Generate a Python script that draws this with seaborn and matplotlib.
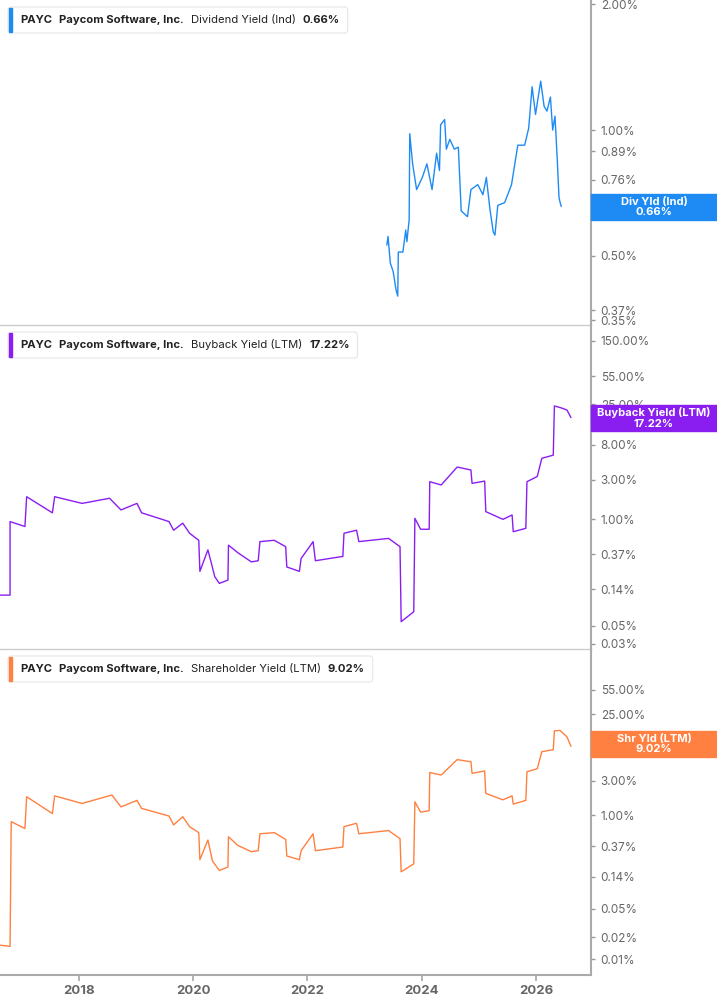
import numpy as np
import pandas as pd
import matplotlib
matplotlib.use("Agg")
import matplotlib.pyplot as plt
from matplotlib.patches import Rectangle, FancyBboxPatch
import seaborn as sns

sns.set_theme(style="white")
plt.rcParams['font.family'] = ['Inter', 'DejaVu Sans']

# ---- data (decimal years, percent values) ----
div_years = [2023.39, 2023.41, 2023.45, 2023.50, 2023.55, 2023.58, 2023.59, 2023.67, 2023.72, 2023.74,
             2023.78, 2023.79, 2023.84, 2023.91, 2024.01, 2024.09, 2024.18, 2024.26, 2024.31, 2024.33,
             2024.40, 2024.43, 2024.49, 2024.57, 2024.64, 2024.69, 2024.80, 2024.86, 2024.98, 2025.07,
             2025.13, 2025.19, 2025.25, 2025.28, 2025.33, 2025.45, 2025.57, 2025.68, 2025.80, 2025.87,
             2025.93, 2025.99, 2026.08, 2026.14, 2026.19, 2026.25, 2026.29, 2026.33, 2026.37, 2026.40,
             2026.42, 2026.44]
div_vals = [0.53, 0.556, 0.48, 0.458, 0.414, 0.40, 0.51, 0.51, 0.576, 0.54,
            0.61, 0.98, 0.83, 0.72, 0.77, 0.83, 0.72, 0.88, 0.80, 1.03,
            1.06, 0.90, 0.95, 0.90, 0.91, 0.64, 0.62, 0.72, 0.74, 0.70,
            0.77, 0.65, 0.57, 0.56, 0.66, 0.67, 0.74, 0.92, 0.92, 1.01,
            1.27, 1.09, 1.31, 1.14, 1.11, 1.20, 1.00, 1.08, 0.85, 0.69,
            0.67, 0.656]

bb_years = [2016.62, 2016.80, 2016.80, 2017.06, 2017.09, 2017.54, 2017.58, 2018.06, 2018.54, 2018.74,
            2019.02, 2019.10, 2019.58, 2019.66, 2019.82, 2019.94, 2020.10, 2020.12, 2020.26, 2020.32,
            2020.38, 2020.46, 2020.61, 2020.62, 2020.78, 2021.02, 2021.14, 2021.17, 2021.42, 2021.62,
            2021.64, 2021.86, 2021.89, 2022.10, 2022.14, 2022.62, 2022.64, 2022.86, 2022.90, 2023.42,
            2023.62, 2023.64, 2023.86, 2023.88, 2023.98, 2024.13, 2024.14, 2024.34, 2024.62, 2024.86,
            2024.88, 2025.10, 2025.12, 2025.42, 2025.58, 2025.60, 2025.82, 2025.84, 2026.02, 2026.10,
            2026.30, 2026.32, 2026.45, 2026.54, 2026.61]
bb_vals = [0.118, 0.118, 0.93, 0.81, 1.87, 1.19, 1.87, 1.55, 1.79, 1.29,
           1.55, 1.19, 0.93, 0.73, 0.89, 0.67, 0.55, 0.23, 0.42, 0.29,
           0.198, 0.164, 0.18, 0.48, 0.39, 0.30, 0.31, 0.53, 0.55, 0.46,
           0.26, 0.23, 0.33, 0.53, 0.31, 0.35, 0.67, 0.73, 0.53, 0.58,
           0.46, 0.056, 0.074, 1.02, 0.75, 0.75, 2.85, 2.6, 4.3, 3.96,
           2.72, 2.9, 1.23, 0.99, 1.12, 0.70, 0.77, 2.85, 3.3, 5.5,
           6.0, 23.9, 22.5, 21.3, 17.22]

sy_years = [2016.62, 2016.80, 2016.82, 2017.06, 2017.09, 2017.54, 2017.58, 2018.06, 2018.58, 2018.74,
            2019.02, 2019.10, 2019.58, 2019.66, 2019.82, 2019.94, 2020.10, 2020.12, 2020.26, 2020.34,
            2020.46, 2020.61, 2020.62, 2020.78, 2021.02, 2021.14, 2021.17, 2021.42, 2021.62, 2021.64,
            2021.86, 2021.89, 2022.10, 2022.14, 2022.62, 2022.64, 2022.86, 2022.90, 2023.42, 2023.62,
            2023.64, 2023.86, 2023.88, 2023.98, 2024.13, 2024.14, 2024.34, 2024.62, 2024.86, 2024.88,
            2025.10, 2025.12, 2025.42, 2025.58, 2025.60, 2025.82, 2025.84, 2026.02, 2026.10, 2026.30,
            2026.32, 2026.42, 2026.54, 2026.61]
sy_vals = [0.0156, 0.015, 0.81, 0.65, 1.8, 1.05, 1.85, 1.45, 1.9, 1.3,
           1.6, 1.24, 0.97, 0.73, 0.95, 0.69, 0.57, 0.24, 0.45, 0.23,
           0.17, 0.19, 0.50, 0.38, 0.31, 0.32, 0.55, 0.57, 0.46, 0.27,
           0.24, 0.32, 0.55, 0.32, 0.36, 0.69, 0.77, 0.55, 0.61, 0.47,
           0.163, 0.21, 1.53, 1.1, 1.15, 3.9, 3.6, 5.9, 5.5, 3.8,
           4.1, 2.0, 1.63, 1.85, 1.42, 1.6, 4.0, 4.4, 7.6, 8.1,
           14.8, 15.0, 12.2, 9.02]

x_ticks = [2018, 2020, 2022, 2024, 2026]
div_ticks = [2.00, 1.00, 0.89, 0.76, 0.63, 0.50, 0.37, 0.35]
bb_ticks = [150, 55, 25, 8, 3, 1, 0.37, 0.14, 0.05, 0.03]
sy_ticks = [55, 25, 8, 3, 1, 0.37, 0.14, 0.05, 0.02, 0.01]

panels = [
    dict(x=div_years, y=div_vals, color="#1E8BF5", ticks=div_ticks, ylim=(0.341, 2.05),
         top=0, bot=325, metric="Dividend Yield (Ind)", last="0.66%", tag="Div Yld (Ind)", tagy=(194, 220)),
    dict(x=bb_years, y=bb_vals, color="#8A1EF0", ticks=bb_ticks, ylim=(0.026, 232),
         top=325, bot=649, metric="Buyback Yield (LTM)", last="17.22%", tag="Buyback Yield (LTM)", tagy=(405, 431)),
    dict(x=sy_years, y=sy_vals, color="#FF8040", ticks=sy_ticks, ylim=(0.006, 203),
         top=649, bot=975, metric="Shareholder Yield (LTM)", last="9.02%", tag="Shr Yld (LTM)", tagy=(731, 757)),
]

W, H = 717, 1005
fig = plt.figure(figsize=(W / 100, H / 100), dpi=100)
grey = "#666666"
axes = []
for i, p in enumerate(panels):
    ax = fig.add_axes([0, 1 - p["bot"] / H, 591 / W, (p["bot"] - p["top"]) / H])
    df = pd.DataFrame({"year": p["x"], "val": p["y"]})
    sns.lineplot(data=df, x="year", y="val", ax=ax, color=p["color"], linewidth=1.0,
                 sort=False, estimator=None)
    ax.set_yscale("log")
    ax.set_ylim(*p["ylim"])
    ax.set_xlim(2016.624, 2026.96)
    ax.yaxis.tick_right()
    ax.set_yticks(p["ticks"])
    ax.set_yticklabels([f"{t:.2f}%" for t in p["ticks"]], fontsize=8.5, color=grey)
    ax.yaxis.set_minor_locator(matplotlib.ticker.NullLocator())
    ax.tick_params(axis="y", length=3, width=1, color="#999999", pad=4, right=True)
    ax.set_xlabel("")
    ax.set_ylabel("")
    for s in ["left", "top"]:
        ax.spines[s].set_visible(False)
    ax.spines["right"].set_color("#aaaaaa")
    ax.spines["right"].set_linewidth(1.5)
    ax.spines["bottom"].set_color("#cccccc" if i < 2 else "#aaaaaa")
    ax.spines["bottom"].set_linewidth(1.0 if i < 2 else 1.5)
    if i < 2:
        ax.set_xticks([])
    else:
        ax.set_xticks(x_ticks)
        ax.set_xticklabels([str(t) for t in x_ticks], fontsize=9.5, color=grey, fontweight="bold")
        ax.tick_params(axis="x", length=4, color="#aaaaaa", bottom=True)
    ax.patch.set_alpha(0)
    axes.append(ax)

    # value tag box on right
    y0, y1 = p["tagy"]
    fig.patches.append(Rectangle((591 / W, 1 - y1 / H), 126 / W, (y1 - y0) / H,
                                 transform=fig.transFigure, color=p["color"], zorder=5))
    fig.text(654 / W, 1 - (y0 + y1) / 2 / H, f"{p['tag']}\n{p['last']}", ha="center", va="center",
             color="white", fontsize=8, fontweight="bold", linespacing=1.1, zorder=6)

# legend boxes
fig.canvas.draw()
renderer = fig.canvas.get_renderer()
for p in panels:
    ty = 1 - (p["top"] + 20) / H
    x = 20 / W
    pieces = [("PAYC", "bold"), ("Paycom Software, Inc.", "bold"), (p["metric"], "normal"), (p["last"], "bold")]
    for txt, wgt in pieces:
        t = fig.text(x, ty, txt, fontsize=8.1, fontweight=wgt, color="#222222", va="center", ha="left", zorder=8)
        bb = t.get_window_extent(renderer)
        x = bb.x1 / W + 7 / W
    right = x - 7 / W + 8 / W
    fig.patches.append(FancyBboxPatch((8 / W, 1 - (p["top"] + 33) / H), right - 8 / W, 26 / H,
                                      boxstyle="round,pad=0,rounding_size=0.004", transform=fig.transFigure,
                                      facecolor="white", edgecolor="#e6e6e6", linewidth=0.8, zorder=7))
    fig.patches.append(Rectangle((9 / W, 1 - (p["top"] + 32) / H), 3 / W, 24 / H,
                                 transform=fig.transFigure, color=p["color"], zorder=8))

fig.savefig("out.png", dpi=100, facecolor="white")
